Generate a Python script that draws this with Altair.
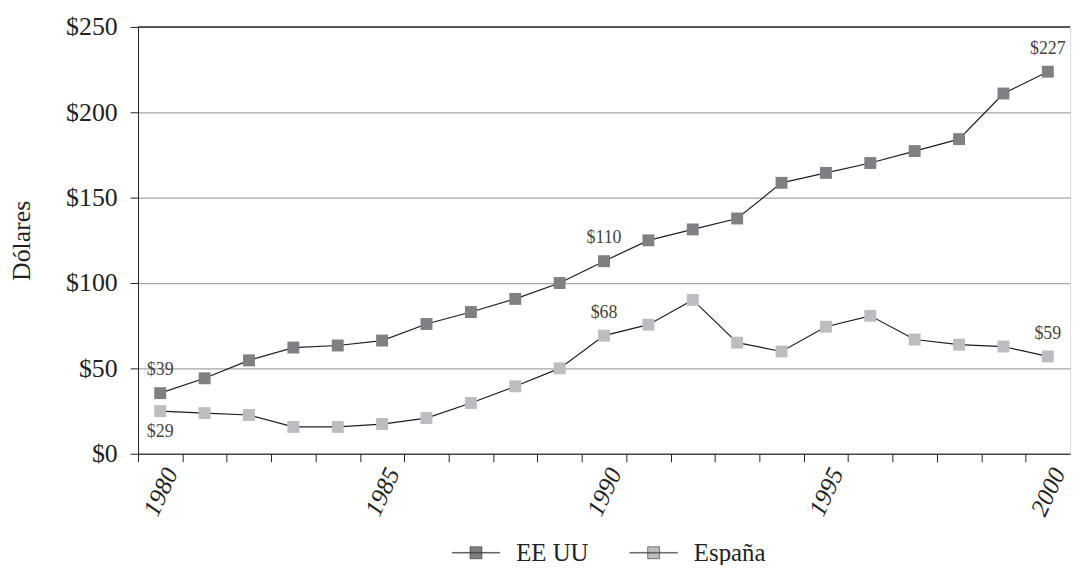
import altair as alt
import pandas as pd

years = list(range(1980, 2001))
eeuu = [35.5, 44.2, 54.7, 62.2, 63.4, 66.3, 76.0, 83.0, 90.7, 100.0, 112.8,
        125.0, 131.4, 137.8, 158.7, 164.5, 170.3, 177.3, 184.3, 211.0, 223.8]
espana = [25.0, 23.8, 22.7, 15.7, 15.7, 17.4, 20.9, 29.7, 39.5, 50.0, 69.2,
          75.6, 90.1, 65.1, 59.9, 74.4, 80.8, 66.9, 63.9, 62.8, 57.0]
series_names = ["EE UU", "España"]
series_colors = ["#808084", "#bdbdc1"]

ann_year = [1980, 1980, 1990, 1990, 2000, 2000]
ann_value = [35.5, 25.0, 112.8, 69.2, 223.8, 57.0]
ann_text = ["$39", "$29", "$110", "$68", "$227", "$59"]
ann_side = ["above", "below", "above", "above", "above", "above"]

y_ticks = [0, 50, 100, 150, 200, 250]

rows = []
for name, vals in zip(series_names, [eeuu, espana]):
    for yr, v in zip(years, vals):
        rows.append({"year": yr, "value": v, "series": name})
df = pd.DataFrame(rows)
ann = pd.DataFrame({"year": ann_year, "value": ann_value, "text": ann_text, "side": ann_side})

FONT = "Liberation Serif"
W, H = 939, 430
half_band = W / 21 / 2

x_enc = alt.X(
    "year:Q",
    scale=alt.Scale(domain=[1979.5, 2000.5], nice=False, zero=False),
    axis=alt.Axis(
        values=years, format="d",
        labelExpr="datum.value % 5 == 0 ? datum.label : ''",
        tickOffset=-half_band, labelOffset=half_band,
        labelAngle=295, labelAlign="center", labelBaseline="middle",
        labelPadding=30, labelFontSize=25, labelFontStyle="italic",
        labelOverlap=False, labelBound=False, labelFlush=False,
        tickSize=8, tickColor="#222", domainColor="#222", grid=False, title=None,
    ),
)
y_enc = alt.Y(
    "value:Q",
    scale=alt.Scale(domain=[0, 250], nice=False),
    axis=alt.Axis(
        values=y_ticks, labelExpr="'$' + datum.value", labelFontSize=26,
        labelPadding=13, tickSize=8, tickColor="#222", domainColor="#222",
        grid=True, gridColor="#a6a6a6", gridWidth=1.3,
        title="Dólares", titleFontSize=26, titleFontWeight="normal",
        titleAngle=270, titleX=-117, titleY=H / 2, titleAlign="center",
        titleBaseline="middle",
    ),
)

base = alt.Chart(df)
line = base.mark_line(color="#1e1e1e", strokeWidth=1.2).encode(x=x_enc, y=y_enc, detail="series:N")
points = base.mark_square(size=144, opacity=1).encode(
    x=x_enc, y=y_enc,
    fill=alt.Fill(
        "series:N",
        scale=alt.Scale(domain=series_names, range=series_colors),
        legend=alt.Legend(
            title=None, orient="none", direction="horizontal",
            legendX=316, legendY=517,
            symbolType="M-2,-0.03H2V0.03H-2Z M-0.5,-0.5H0.5V0.5H-0.5Z",
            symbolSize=576, symbolStrokeWidth=0.6, symbolStrokeColor="#333",
            symbolOffset=12,
            labelFontSize=25, labelFont=FONT, labelColor="#222",
            labelOffset=28, columnPadding=40,
        ),
    ),
)
top_rule = alt.Chart(pd.DataFrame({"v": [250]})).mark_rule(color="#333", strokeWidth=1.5).encode(y="v:Q")

ann_base = alt.Chart(ann)
above = ann_base.transform_filter("datum.side == 'above'").mark_text(
    dy=-23, fontSize=18, font=FONT, color="#444"
).encode(x="year:Q", y="value:Q", text="text:N")
below = ann_base.transform_filter("datum.side == 'below'").mark_text(
    dy=21, fontSize=18, font=FONT, color="#444"
).encode(x="year:Q", y="value:Q", text="text:N")

chart = alt.layer(top_rule, line, points, above, below).properties(
    width=W, height=H,
    autosize=alt.AutoSizeParams(type="none"),
    padding={"left": 131, "top": 17, "right": 2, "bottom": 110},
).configure_view(stroke=None).configure(font=FONT).configure_axis(
    labelFont=FONT, titleFont=FONT, labelColor="#222", titleColor="#222"
).configure_legend(labelFont=FONT)

chart.save("out.html", embed_options={"renderer": "svg", "actions": False})
